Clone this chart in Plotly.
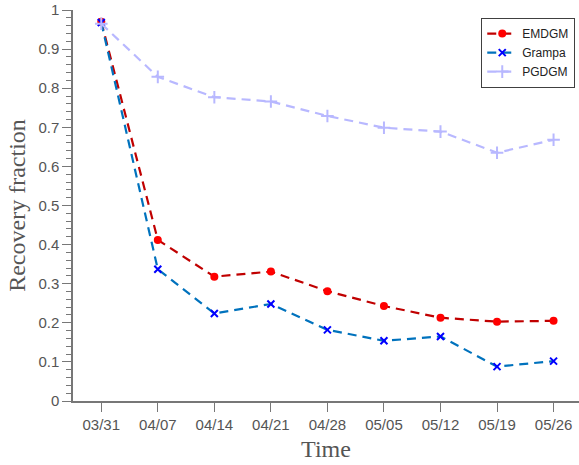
import plotly.graph_objects as go

dates = ["03/31", "04/07", "04/14", "04/21", "04/28", "05/05", "05/12", "05/19", "05/26"]
emdgm = [0.970, 0.412, 0.318, 0.331, 0.281, 0.243, 0.213, 0.203, 0.205]
grampa = [0.968, 0.337, 0.224, 0.248, 0.182, 0.154, 0.165, 0.088, 0.102]
pgdgm = [0.965, 0.829, 0.777, 0.766, 0.729, 0.699, 0.689, 0.635, 0.668]

x = list(range(len(dates)))

fig = go.Figure()
fig.add_trace(go.Scatter(
    x=x, y=emdgm, name="EMDGM", mode="lines+markers",
    line=dict(color="#c00000", width=2.2, dash="9px,6px"),
    marker=dict(symbol="circle", size=8, color="#ff0000"),
))
fig.add_trace(go.Scatter(
    x=x, y=grampa, name="Grampa", mode="lines+markers",
    line=dict(color="#0072bd", width=2.2, dash="9px,6px"),
    marker=dict(symbol="x-thin", size=7, color="#0000ff",
                line=dict(color="#0000ff", width=2)),
))
fig.add_trace(go.Scatter(
    x=x, y=pgdgm, name="PGDGM", mode="lines+markers",
    line=dict(color="#b8b8ff", width=2.2, dash="9px,6px"),
    marker=dict(symbol="cross-thin", size=9, color="#b8b8ff",
                line=dict(color="#b8b8ff", width=2)),
))

fig.update_layout(
    width=579, height=465,
    margin=dict(l=73, r=0, t=10, b=64),
    plot_bgcolor="white", paper_bgcolor="white",
    showlegend=True,
    legend=dict(
        x=0.992, y=0.98, xanchor="right", yanchor="top",
        bgcolor="white", bordercolor="#404040", borderwidth=1.3,
        font=dict(family="Liberation Sans", size=12, color="#222222"),
        tracegroupgap=0, itemwidth=30,
    ),
)
fig.update_xaxes(
    range=[-0.5, 8.45], automargin=False,
    tickmode="array", tickvals=x, ticktext=dates,
    ticks="outside", ticklen=9, tickcolor="#777777", tickwidth=1,
    showline=True, linecolor="#777777", linewidth=1.5,
    showgrid=False, zeroline=False,
    tickfont=dict(family="Liberation Sans", size=15, color="#555555"),
    title=dict(text="Time", font=dict(family="Liberation Serif", size=24, color="#555555"), standoff=8),
)
fig.update_yaxes(
    range=[0, 1], automargin=False,
    tickvals=[0, 0.1, 0.2, 0.3, 0.4, 0.5, 0.6, 0.7, 0.8, 0.9, 1],
    ticktext=["0", "0.1", "0.2", "0.3", "0.4", "0.5", "0.6", "0.7", "0.8", "0.9", "1"],
    ticks="outside", ticklen=9, tickcolor="#777777", tickwidth=1,
    minor=dict(dtick=0.02, ticks="outside", ticklen=5, tickcolor="#777777", tickwidth=1, showgrid=False),
    showline=True, linecolor="#777777", linewidth=1.5,
    showgrid=False, zeroline=False,
    tickfont=dict(family="Liberation Sans", size=15, color="#555555"),
    title=dict(text="Recovery fraction", font=dict(family="Liberation Serif", size=24, color="#555555"), standoff=6),
)

fig.write_html(
    "out.html",
    config={"displayModeBar": False},
    post_script="document.body.style.margin='0';document.body.style.overflow='hidden';",
)
